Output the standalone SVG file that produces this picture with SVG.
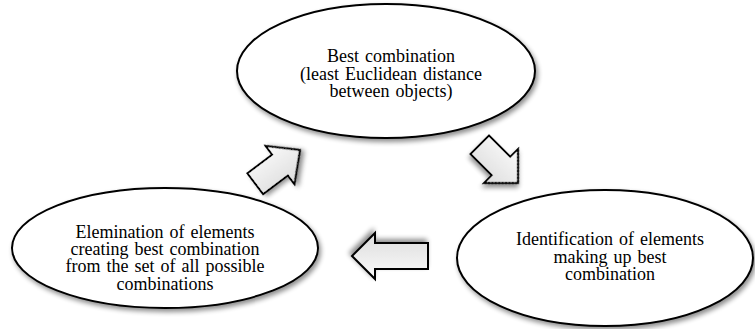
<svg xmlns="http://www.w3.org/2000/svg" width="755" height="329" viewBox="0 0 755 329">
<defs>
<filter id="sh" x="-20%" y="-20%" width="140%" height="150%">
<feGaussianBlur in="SourceAlpha" stdDeviation="2.5" result="blur"/>
<feOffset in="blur" dx="2" dy="3" result="off"/>
<feComponentTransfer in="off" result="shadow"><feFuncA type="linear" slope="0.45"/></feComponentTransfer>
<feMerge><feMergeNode in="shadow"/><feMergeNode in="SourceGraphic"/></feMerge>
</filter>
<linearGradient id="ag" x1="0" y1="0" x2="0" y2="1">
<stop offset="0" stop-color="#fbfbfb"/>
<stop offset="1" stop-color="#dcdcdc"/>
</linearGradient>
</defs>
<style>
.ell{fill:#ffffff;stroke:#000000;stroke-width:2;filter:url(#sh)}
.lbl{font-family:'Liberation Serif','Times New Roman',serif;font-size:18px;word-spacing:1.5px;fill:#000000;text-anchor:middle}
.ar{fill:url(#ag);stroke:#000000;stroke-width:2;stroke-linejoin:miter;filter:url(#sh)}
</style>
<rect width="755" height="329" fill="#ffffff"/>
<g id="node-best">
<ellipse class="ell" cx="386" cy="71" rx="149" ry="67"/>
<text class="lbl" x="391" y="62">Best combination</text>
<text class="lbl" x="391" y="79.5">(least Euclidean distance</text>
<text class="lbl" x="391" y="97">between objects)</text>
</g>
<g id="node-identification">
<ellipse class="ell" cx="605" cy="258" rx="148" ry="68"/>
<text class="lbl" x="610" y="245">Identification of elements</text>
<text class="lbl" x="610" y="262.5">making up best</text>
<text class="lbl" x="610" y="280">combination</text>
</g>
<g id="node-elimination">
<ellipse class="ell" cx="165" cy="248" rx="153" ry="60"/>
<text class="lbl" x="165" y="238">Elemination of elements</text>
<text class="lbl" x="165" y="255">creating best combination</text>
<text class="lbl" x="165" y="272">from the set of all possible</text>
<text class="lbl" x="165" y="289.5">combinations</text>
</g>
<g id="connectors">
<path class="ar" d="M0,0 L-24,-24 L-24,-13 L-54,-13 L-54,13 L-24,13 L-24,24 Z" transform="translate(518,183) rotate(45)"/>
<path class="ar" d="M0,0 L-23,-23 L-23,-13 L-76,-13 L-76,13 L-23,13 L-23,23 Z" transform="translate(352,256) rotate(180)"/>
<path class="ar" d="M0,0 L-25,-24 L-25,-13 L-56,-13 L-56,13 L-25,13 L-25,24 Z" transform="translate(300,150) rotate(-37)"/>
</g>
</svg>
